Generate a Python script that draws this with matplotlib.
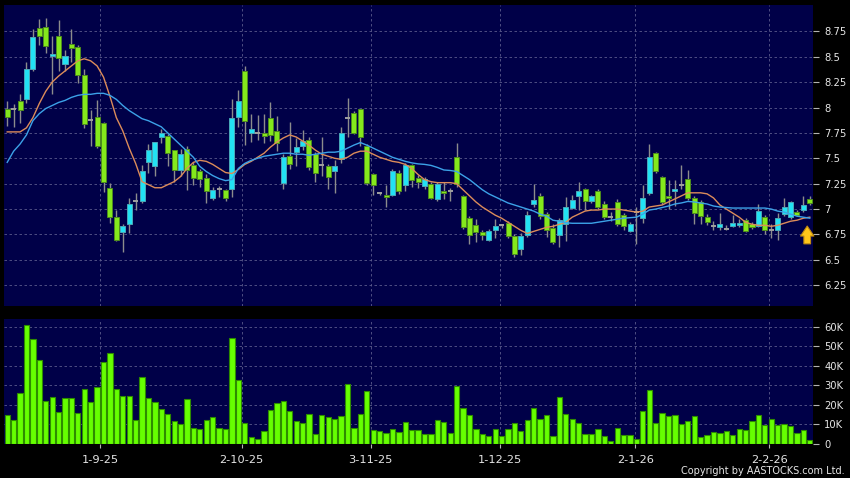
import numpy as np
import matplotlib
matplotlib.use("Agg")
import matplotlib.pyplot as plt
from matplotlib.ticker import FuncFormatter, FixedLocator, MultipleLocator


OUT_PATH = "out.png"

BG_FIG = "#000000"
BG_AX = "#000048"
GRID_COLOR = "#5a5a8c"
TEXT_COLOR = "#e6e6e6"
UP_COLOR = "#22e2f4"
UP_EDGE = "#4aa8b8"
DOWN_COLOR = "#84e81c"
DOWN_EDGE = "#4e8c1e"
DOJI_COLOR = "#a0a0a0"
WICK_COLOR = "#8c8c8c"
VOL_COLOR = "#66ff00"
VOL_EDGE = "#2e8c00"
MA_SHORT_COLOR = "#dc8c5a"
MA_LONG_COLOR = "#3ca2e8"

# month markers under the volume panel
date_labels = ["1-9-25", "2-10-25", "3-11-25", "1-12-25", "2-1-26", "2-2-26"]
date_pos = [14.5, 36.5, 56.6, 76.7, 97.8, 118.7]

# price axis labels
price_ticks = [6.25, 6.5, 6.75, 7, 7.25, 7.5, 7.75, 8, 8.25, 8.5, 8.75]

# daily OHLC
opens = [7.99, 7.99, 8.06, 8.08, 8.38, 8.78, 8.79, 8.51, 8.70, 8.43,
         8.63, 8.60, 8.32, 7.88, 7.91, 7.85, 7.21, 6.92, 6.77, 6.85,
         7.08, 7.08, 7.46, 7.42, 7.71, 7.72, 7.58, 7.38, 7.59, 7.43,
         7.37, 7.31, 7.11, 7.20, 7.19, 7.20, 7.91, 8.36, 7.75, 7.75,
         7.75, 7.90, 7.77, 7.26, 7.52, 7.56, 7.62, 7.68, 7.54, 7.43,
         7.42, 7.37, 7.49, 7.90, 7.95, 7.99, 7.62, 7.35, 7.16, 7.14,
         7.14, 7.36, 7.24, 7.43, 7.31, 7.23, 7.25, 7.10, 7.18, 7.18,
         7.51, 7.13, 6.91, 6.84, 6.77, 6.70, 6.79, 6.84, 6.86, 6.73,
         6.61, 6.74, 7.05, 7.13, 6.95, 6.81, 6.74, 6.85, 7.01, 7.13,
         7.20, 7.08, 7.18, 7.05, 6.92, 7.07, 6.94, 6.78, 6.97, 6.91,
         7.16, 7.55, 7.32, 7.13, 7.18, 7.24, 7.30, 7.11, 7.07, 6.92,
         6.83, 6.82, 6.80, 6.83, 6.84, 6.89, 6.85, 6.83, 6.92, 6.79,
         6.79, 6.95, 6.92, 6.97, 6.99, 7.10]
highs = [8.06, 8.03, 8.13, 8.45, 8.77, 8.87, 8.88, 8.70, 8.86, 8.57,
         8.77, 8.62, 8.38, 7.98, 8.07, 7.86, 7.26, 6.99, 6.85, 7.11,
         7.16, 7.43, 7.64, 7.66, 7.79, 7.74, 7.58, 7.59, 7.62, 7.46,
         7.39, 7.35, 7.22, 7.23, 7.20, 8.08, 8.17, 8.41, 7.94, 7.93,
         7.94, 8.05, 7.92, 7.54, 7.86, 7.70, 7.78, 7.71, 7.56, 7.71,
         7.44, 7.48, 7.81, 8.09, 7.97, 7.99, 7.64, 7.36, 7.17, 7.24,
         7.39, 7.38, 7.45, 7.44, 7.34, 7.32, 7.27, 7.27, 7.27, 7.21,
         7.65, 7.14, 6.93, 6.90, 6.79, 6.80, 6.90, 6.85, 6.88, 6.75,
         6.76, 6.98, 7.25, 7.16, 6.97, 6.85, 6.91, 7.12, 7.14, 7.27,
         7.21, 7.14, 7.20, 7.08, 6.97, 7.10, 6.96, 6.87, 7.02, 7.24,
         7.64, 7.56, 7.33, 7.29, 7.29, 7.43, 7.38, 7.13, 7.09, 6.95,
         6.88, 6.96, 6.84, 6.94, 6.90, 6.91, 6.87, 7.05, 6.94, 6.85,
         6.96, 7.11, 7.08, 6.99, 7.13, 7.13]
lows = [7.82, 7.81, 7.85, 8.04, 8.36, 8.62, 8.54, 8.13, 8.36, 8.36,
        8.45, 8.24, 7.80, 7.62, 7.60, 7.17, 6.86, 6.69, 6.58, 6.76,
        6.99, 7.06, 7.36, 7.33, 7.65, 7.42, 7.27, 7.33, 7.19, 7.24,
        7.22, 7.06, 7.09, 7.12, 7.08, 7.12, 7.81, 7.63, 7.66, 7.68,
        7.65, 7.67, 7.57, 7.20, 7.39, 7.42, 7.58, 7.38, 7.27, 7.33,
        7.20, 7.16, 7.45, 7.71, 7.74, 7.62, 7.24, 7.14, 7.14, 7.02,
        7.13, 7.15, 7.18, 7.22, 7.21, 7.20, 7.10, 7.08, 7.10, 7.08,
        7.22, 6.80, 6.66, 6.68, 6.70, 6.69, 6.71, 6.81, 6.71, 6.53,
        6.55, 6.72, 7.02, 6.90, 6.72, 6.66, 6.63, 6.69, 7.00, 6.99,
        6.99, 7.06, 7.00, 6.90, 6.88, 6.83, 6.79, 6.77, 6.66, 6.86,
        7.14, 7.36, 7.05, 7.00, 7.03, 7.20, 7.09, 6.85, 6.85, 6.84,
        6.79, 6.79, 6.79, 6.82, 6.82, 6.77, 6.80, 6.82, 6.75, 6.71,
        6.70, 6.93, 6.90, 6.93, 6.97, 7.04]
closes = [7.91, 7.99, 7.98, 8.38, 8.69, 8.70, 8.61, 8.53, 8.49, 8.51,
          8.59, 8.32, 7.84, 7.88, 7.62, 7.27, 6.92, 6.70, 6.83, 7.05,
          7.08, 7.37, 7.58, 7.66, 7.75, 7.55, 7.38, 7.54, 7.38, 7.31,
          7.30, 7.18, 7.19, 7.20, 7.11, 7.90, 8.06, 7.87, 7.79, 7.75,
          7.72, 7.73, 7.65, 7.51, 7.44, 7.61, 7.67, 7.41, 7.36, 7.43,
          7.32, 7.42, 7.75, 7.90, 7.75, 7.71, 7.26, 7.24, 7.16, 7.12,
          7.37, 7.18, 7.43, 7.29, 7.27, 7.30, 7.11, 7.25, 7.16, 7.18,
          7.25, 6.82, 6.74, 6.77, 6.74, 6.78, 6.83, 6.84, 6.73, 6.56,
          6.73, 6.94, 7.09, 6.93, 6.79, 6.68, 6.89, 7.02, 7.09, 7.18,
          7.08, 7.13, 7.02, 6.92, 6.92, 6.85, 6.83, 6.85, 6.97, 7.11,
          7.51, 7.37, 7.07, 7.11, 7.20, 7.24, 7.11, 6.96, 6.93, 6.87,
          6.83, 6.85, 6.80, 6.86, 6.86, 6.78, 6.82, 6.98, 6.79, 6.79,
          6.91, 7.02, 7.07, 6.94, 7.04, 7.06]

# moving averages as drawn on the chart (orange = short, blue = long)
ma_short = [7.76, 7.76, 7.76, 7.80, 7.90, 8.04, 8.16, 8.25, 8.31, 8.36,
            8.41, 8.46, 8.48, 8.46, 8.41, 8.30, 8.11, 7.90, 7.77, 7.60,
            7.45, 7.27, 7.24, 7.21, 7.21, 7.24, 7.27, 7.32, 7.40, 7.46,
            7.48, 7.47, 7.44, 7.40, 7.36, 7.35, 7.39, 7.44, 7.47, 7.51,
            7.55, 7.61, 7.66, 7.70, 7.73, 7.71, 7.67, 7.63, 7.58, 7.54,
            7.52, 7.50, 7.49, 7.51, 7.55, 7.57, 7.57, 7.54, 7.51, 7.49,
            7.47, 7.46, 7.44, 7.40, 7.34, 7.29, 7.27, 7.26, 7.26, 7.26,
            7.25, 7.19, 7.13, 7.07, 7.02, 6.98, 6.94, 6.91, 6.87, 6.83,
            6.79, 6.76, 6.78, 6.80, 6.82, 6.83, 6.85, 6.87, 6.92, 6.95,
            6.98, 6.99, 6.99, 7.00, 7.00, 7.00, 6.99, 6.98, 6.97, 6.98,
            7.02, 7.03, 7.04, 7.07, 7.10, 7.13, 7.16, 7.16, 7.16, 7.15,
            7.11, 7.04, 7.00, 6.96, 6.92, 6.87, 6.85, 6.84, 6.84, 6.83,
            6.84, 6.86, 6.88, 6.89, 6.91, 6.92]
ma_long = [7.46, 7.57, 7.64, 7.73, 7.87, 7.94, 7.99, 8.02, 8.05, 8.07,
           8.10, 8.12, 8.13, 8.13, 8.14, 8.14, 8.12, 8.08, 8.02, 7.97,
           7.93, 7.89, 7.87, 7.84, 7.81, 7.75, 7.69, 7.63, 7.57, 7.51,
           7.42, 7.37, 7.33, 7.30, 7.28, 7.29, 7.40, 7.45, 7.48, 7.50,
           7.52, 7.53, 7.54, 7.55, 7.55, 7.54, 7.54, 7.53, 7.54, 7.55,
           7.56, 7.56, 7.57, 7.60, 7.63, 7.655, 7.63, 7.60, 7.57, 7.54,
           7.51, 7.49, 7.47, 7.455, 7.445, 7.44, 7.43, 7.41, 7.385, 7.38,
           7.37, 7.33, 7.29, 7.24, 7.19, 7.15, 7.12, 7.09, 7.06, 7.04,
           7.02, 7.00, 6.98, 6.95, 6.93, 6.89, 6.88, 6.865, 6.86, 6.86,
           6.86, 6.86, 6.87, 6.88, 6.89, 6.90, 6.91, 6.915, 6.92, 6.95,
           6.99, 7.00, 7.015, 7.03, 7.05, 7.06, 7.075, 7.07, 7.06, 7.05,
           7.03, 7.02, 7.015, 7.01, 7.01, 7.01, 7.01, 7.01, 7.01, 7.00,
           6.98, 6.97, 6.95, 6.93, 6.92, 6.91]

# daily volume, thousands of shares
volume_k = [14.6, 12.0, 26.0, 61.0, 53.5, 43.0, 22.0, 23.7, 16.3, 23.2,
            23.3, 15.8, 27.8, 21.1, 29.0, 41.9, 46.5, 27.8, 24.4, 24.2,
            12.0, 34.1, 23.2, 21.1, 17.7, 15.4, 11.7, 9.8, 23.0, 7.9,
            7.7, 12.3, 13.4, 8.2, 7.7, 54.0, 32.8, 10.6, 3.3, 2.4,
            6.2, 17.2, 20.8, 21.8, 16.5, 11.8, 10.6, 15.4, 5.0, 14.9,
            13.6, 12.7, 14.1, 30.7, 7.9, 15.3, 26.9, 6.9, 6.5, 5.3,
            7.4, 5.8, 11.3, 7.0, 6.7, 5.0, 5.0, 12.0, 11.0, 5.5,
            29.5, 18.0, 14.5, 7.2, 5.0, 3.6, 7.7, 3.6, 7.5, 10.5,
            6.2, 12.3, 18.0, 12.5, 14.4, 4.0, 24.0, 15.0, 12.7, 10.6,
            4.8, 5.0, 7.7, 4.1, 1.4, 8.2, 4.5, 4.6, 2.4, 16.5,
            27.4, 10.5, 15.6, 14.2, 14.4, 10.0, 11.5, 14.2, 3.3, 4.6,
            5.7, 5.3, 6.3, 4.3, 7.2, 6.7, 11.5, 14.9, 9.6, 12.7,
            9.3, 9.8, 8.9, 5.3, 6.9, 2.0]


def style_axis(ax):
    ax.set_facecolor(BG_AX)
    for sp in ax.spines.values():
        sp.set_visible(False)
    ax.yaxis.tick_right()
    ax.grid(True, color=GRID_COLOR, linestyle=(0, (3, 3)), linewidth=0.6)
    ax.set_axisbelow(True)
    ax.tick_params(axis="y", colors="#b4b4b4", labelcolor=TEXT_COLOR,
                   labelsize=7.2, length=4, width=0.8, pad=4)
    ax.set_xticks(date_pos)


def draw_candles(ax, x):
    o = np.array(opens)
    h = np.array(highs)
    l = np.array(lows)
    c = np.array(closes)

    ax.vlines(x, l, h, color=WICK_COLOR, linewidth=1.0, zorder=2)

    up = c > o
    down = c < o
    flat = c == o
    w = 0.78
    ax.bar(x[up], (c - o)[up], bottom=o[up], width=w, color=UP_COLOR,
           edgecolor=UP_EDGE, linewidth=0.7, zorder=3)
    ax.bar(x[down], (o - c)[down], bottom=c[down], width=w, color=DOWN_COLOR,
           edgecolor=DOWN_EDGE, linewidth=0.7, zorder=3)
    ax.hlines(c[flat], x[flat] - w / 2, x[flat] + w / 2, color=DOJI_COLOR,
              linewidth=1.4, zorder=3)


def main():
    fig = plt.figure(figsize=(8.5, 4.78), dpi=100, facecolor=BG_FIG)
    W, H = 850, 478

    ax_p = fig.add_axes([4 / W, 1 - 305.5 / H, 809 / W, 300.5 / H])
    ax_v = fig.add_axes([4 / W, 1 - 443.5 / H, 809 / W, 124.5 / H])

    x = np.arange(len(closes))

    # -----------------------------
    # price panel
    # -----------------------------
    style_axis(ax_p)
    draw_candles(ax_p, x)
    ax_p.plot(x, ma_short, color=MA_SHORT_COLOR, linewidth=1.0, zorder=4)
    ax_p.plot(x, ma_long, color=MA_LONG_COLOR, linewidth=1.0, zorder=4)

    ax_p.set_xlim(-0.5, len(closes) - 0.5)
    ax_p.set_ylim(6.05, 9.01)
    ax_p.yaxis.set_major_locator(FixedLocator(price_ticks))
    ax_p.yaxis.set_major_formatter(FuncFormatter(lambda v, _: f"{v:g}"))
    ax_p.tick_params(axis="x", length=0, labelbottom=False)

    # latest-bar marker
    ax_p.annotate("", xy=(x[-1] - 0.4, 6.86), xytext=(x[-1] - 0.4, 6.63),
                  arrowprops=dict(arrowstyle="simple,head_length=0.9,head_width=1.2,tail_width=0.6",
                                  fc="#ffc61a", ec="#c08a10", lw=0.8, mutation_scale=8),
                  zorder=5)

    # -----------------------------
    # volume panel
    # -----------------------------
    style_axis(ax_v)
    ax_v.bar(x, volume_k, width=0.82, color=VOL_COLOR, edgecolor=VOL_EDGE,
             linewidth=0.8, zorder=3)
    ax_v.set_xlim(-0.5, len(closes) - 0.5)
    ax_v.set_ylim(0, 64)
    ax_v.yaxis.set_major_locator(MultipleLocator(10))
    ax_v.yaxis.set_major_formatter(FuncFormatter(lambda v, _: "0" if v == 0 else f"{v:g}K"))
    ax_v.set_xticklabels(date_labels)
    ax_v.tick_params(axis="x", colors="#b4b4b4", labelcolor=TEXT_COLOR,
                     labelsize=8.2, length=3, width=0.8, pad=5)

    fig.text(845 / W, 1 - 471 / H, "Copyright by AASTOCKS.com Ltd.",
             color=TEXT_COLOR, fontsize=7, ha="right", va="center")

    fig.savefig(OUT_PATH, dpi=100, facecolor=BG_FIG)
    plt.close(fig)


if __name__ == "__main__":
    main()
